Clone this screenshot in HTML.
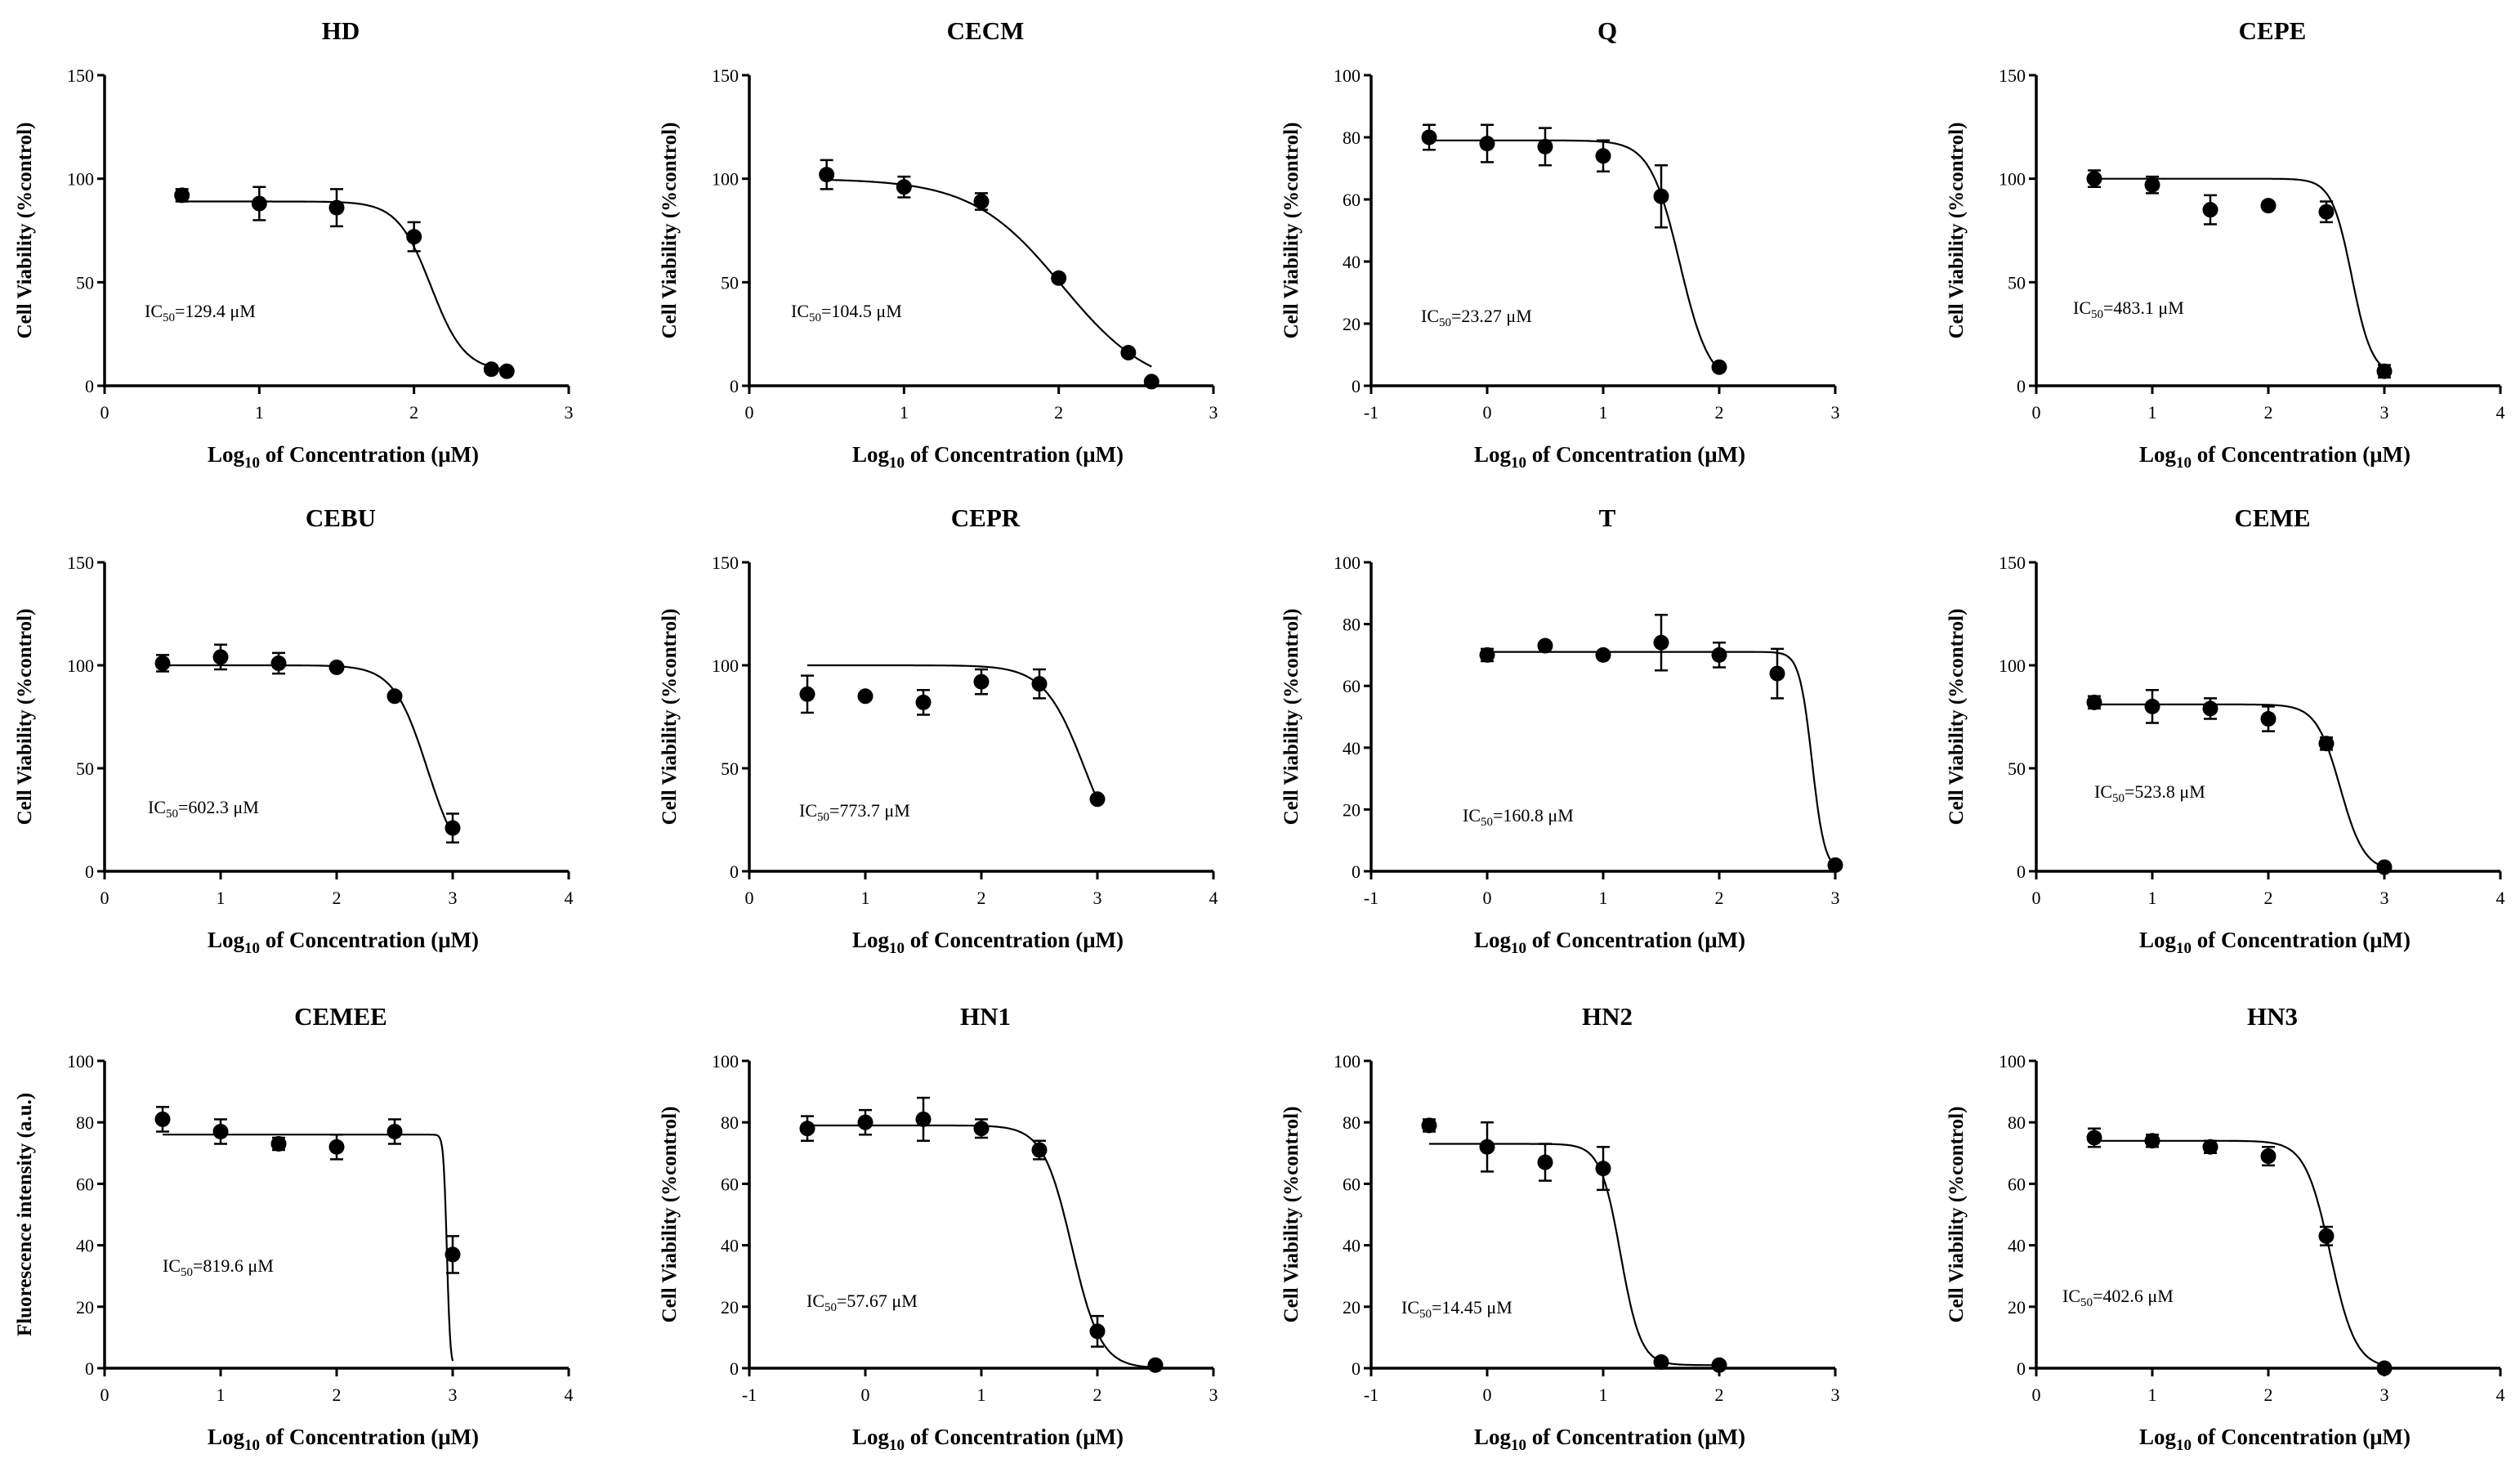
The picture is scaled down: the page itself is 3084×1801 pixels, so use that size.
<!DOCTYPE html>
<html><head><meta charset="utf-8"><style>
html,body{margin:0;padding:0;background:#fff;}
svg{display:block;font-family:"Liberation Serif",serif;}
</style></head><body>
<svg id="chart" width="3084" height="1801" viewBox="0 0 3084 1801" xmlns="http://www.w3.org/2000/svg"></svg>
<script>
const titles = ["HD","CECM","Q","CEPE","CEBU","CEPR","T","CEME","CEMEE","HN1","HN2","HN3"];
const ic50Labels = ["129.4","104.5","23.27","483.1","602.3","773.7","160.8","523.8","819.6","57.67","14.45","402.6"];
const xDomains = [[0,3],[0,3],[-1,3],[0,4],[0,4],[0,4],[-1,3],[0,4],[0,4],[-1,3],[-1,3],[0,4]];
const yMaxes = [150,150,100,150,150,150,100,150,100,100,100,100];
const xValues = [
 [0.5,1,1.5,2,2.5,2.6],[0.5,1,1.5,2,2.45,2.6],[-0.5,0,0.5,1,1.5,2],[0.5,1,1.5,2,2.5,3],
 [0.5,1,1.5,2,2.5,3],[0.5,1,1.5,2,2.5,3],[0,0.5,1,1.5,2,2.5,3],[0.5,1,1.5,2,2.5,3],
 [0.5,1,1.5,2,2.5,3],[-0.5,0,0.5,1,1.5,2,2.5],[-0.5,0,0.5,1,1.5,2],[0.5,1,1.5,2,2.5,3]];
const yValues = [
 [92,88,86,72,8,7],[102,96,89,52,16,2],[80,78,77,74,61,6],[100,97,85,87,84,7],
 [101,104,101,99,85,21],[86,85,82,92,91,35],[70,73,70,74,70,64,2],[82,80,79,74,62,2],
 [81,77,73,72,77,37],[78,80,81,78,71,12,1],[79,72,67,65,2,1],[75,74,72,69,43,0]];
const yErrors = [
 [3,8,9,7,1,1],[7,5,4,1,1,1],[4,6,6,5,10,1],[4,4,7,1,5,3],
 [4,6,5,1,1,7],[9,1,6,6,7,1],[2,1,1,9,4,8,1],[3,8,5,6,3,1],
 [4,4,2,4,4,6],[4,4,7,3,3,5,1],[2,8,6,7,1,1],[3,2,2,3,3,1]];
const fitTop = [89,100,79,100,100,100,71,81,76,79,73,74];
const fitBottom = [7,-3,0,5,0,0,0,0,0,0,1,0];
const fitLogIC = [2.11,2.02,1.66,2.72,2.78,2.89,2.8,2.62,2.95,1.78,1.15,2.535];
const fitHill = [4,1.5,3.4,5,3,2.5,8,4.2,30,3.5,5,4];
const ic50Pos = [[177,380],[968,380],[1739,386],[2537,376],[181,987],[978,991],[1790,997],[2563,968],[199,1548],[987,1591],[1715,1599],[2524,1585]];

const svg = document.getElementById('chart');
const NS = 'http://www.w3.org/2000/svg';
function mk(tag, attrs, parent){const e=document.createElementNS(NS,tag);for(const k in attrs)e.setAttribute(k,attrs[k]);(parent||svg).appendChild(e);return e;}
const colLeft = [128,917,1678,2492];
const rowTop = [92,688,1298];
const rowZero = [472,1066,1674];
const plotW = 568;

titles.forEach((t,i)=>{
  const c=i%4, r=Math.floor(i/4);
  const g=mk('g',{});
  
  
  const L=colLeft[c], T=rowTop[r], Z=rowZero[r];
  const [x0,x1]=xDomains[i], ym=yMaxes[i];
  const sx=v=>L+(v-x0)/(x1-x0)*plotW;
  const sy=v=>Z-(v/ym)*(Z-T);
  const cx=L+plotW/2;
  const tt=mk('text',{x:cx+5,y:T-44,'text-anchor':'middle','font-size':31,'font-weight':'bold'},g);tt.textContent=t;
  
  const ax=mk('path',{d:`M${L},${T} L${L},${Z} L${L+plotW},${Z}`,stroke:'#000','stroke-width':3.5,fill:'none'},g);
  
  const step = ym===150?50:20;
  for(let v=0;v<=ym;v+=step){
    mk('line',{x1:L-9,x2:L,y1:sy(v),y2:sy(v),stroke:'#000','stroke-width':3},g);
    const tl=mk('text',{x:L-13,y:sy(v)+8,'text-anchor':'end','font-size':22},g);tl.textContent=v;
    
  }
  for(let v=x0;v<=x1;v++){
    mk('line',{x1:sx(v),x2:sx(v),y1:Z,y2:Z+10,stroke:'#000','stroke-width':3},g);
    const tl=mk('text',{x:sx(v),y:Z+40,'text-anchor':'middle','font-size':22},g);tl.textContent=v;
    
  }
  const xt=mk('text',{x:cx+8,y:Z+93,'text-anchor':'middle','font-size':27,'font-weight':'bold'},g);
  xt.innerHTML='Log<tspan font-size="19" dy="7">10</tspan><tspan dy="-7"> of Concentration (μM)</tspan>';
  
  const ymid=(T+Z)/2;
  const yt=mk('text',{x:0,y:0,transform:`translate(${L-90},${ymid}) rotate(-90)`,'text-anchor':'middle','font-size':25,'font-weight':'bold'},g);
  yt.textContent = t==='CEMEE'?'Fluorescence intensity (a.u.)':'Cell Viability (%control)';
  
  const it=mk('text',{x:ic50Pos[i][0],y:ic50Pos[i][1]+8,'font-size':22},g);
  it.innerHTML='IC<tspan font-size="15" dy="5">50</tspan><tspan dy="-5">='+ic50Labels[i]+' μM</tspan>';
  
  const xs=xValues[i], xa=xs[0], xb=xs[xs.length-1];
  let d='';
  for(let k=0;k<=300;k++){
    const xv=xa+(xb-xa)*k/300;
    const yv=fitBottom[i]+(fitTop[i]-fitBottom[i])/(1+Math.pow(10,fitHill[i]*(xv-fitLogIC[i])));
    d+=(k?'L':'M')+sx(xv).toFixed(1)+','+sy(Math.max(yv,0)).toFixed(1);
  }
  const cv=mk('path',{d:d,stroke:'#000','stroke-width':2.2,fill:'none'},g);
  
  xs.forEach((xv,k)=>{
    const yv=yValues[i][k], e=yErrors[i][k], px=sx(xv);
    if(e>1.5){
      const eb=mk('path',{d:`M${px},${sy(yv+e)} L${px},${sy(yv-e)} M${px-8},${sy(yv+e)} L${px+8},${sy(yv+e)} M${px-8},${sy(yv-e)} L${px+8},${sy(yv-e)}`,stroke:'#000','stroke-width':2.5,fill:'none'},g);
      
    }
    const p=mk('circle',{cx:px,cy:sy(yv),r:9.5,fill:'#000'},g);
    
  });
});
</script>
</body></html>
